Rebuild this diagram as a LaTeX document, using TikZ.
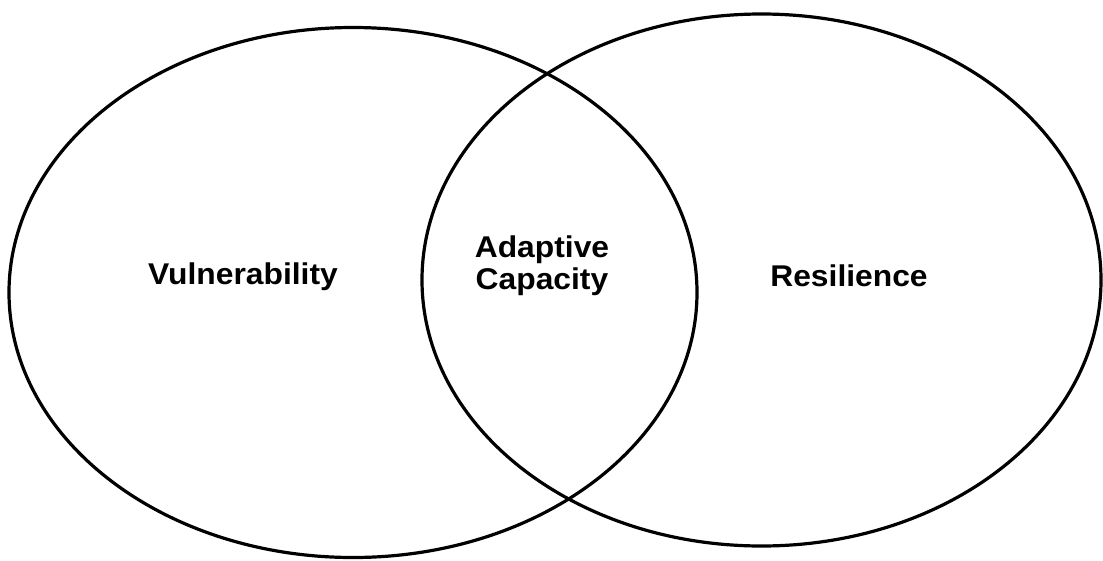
\documentclass[tikz,border=0pt]{standalone}
\usepackage{fontspec}
\newfontfamily\lblfont[FakeStretch=1.06]{Liberation Sans}
\begin{document}
\begin{tikzpicture}[
  ring/.style={draw=black, line width=3.2pt},
  lbl/.style={font=\lblfont\bfseries\fontsize{30}{32}\selectfont, inner sep=0pt, align=center}
]
\useasboundingbox (0pt,0pt) rectangle (1103pt,-560pt);
\draw[ring] (353pt,-292.5pt) ellipse [x radius=344pt, y radius=265pt];
\draw[ring] (761.5pt,-280pt) ellipse [x radius=339.5pt, y radius=266pt];
\node[lbl, anchor=base] (vul) at (243pt,-284pt) {Vulnerability};
\node[lbl, anchor=base] (res) at (849pt,-286pt) {Resilience};
\node[lbl, anchor=center] (ada) at (542pt,-266pt) {Adaptive\\Capacity};
\end{tikzpicture}
\end{document}
